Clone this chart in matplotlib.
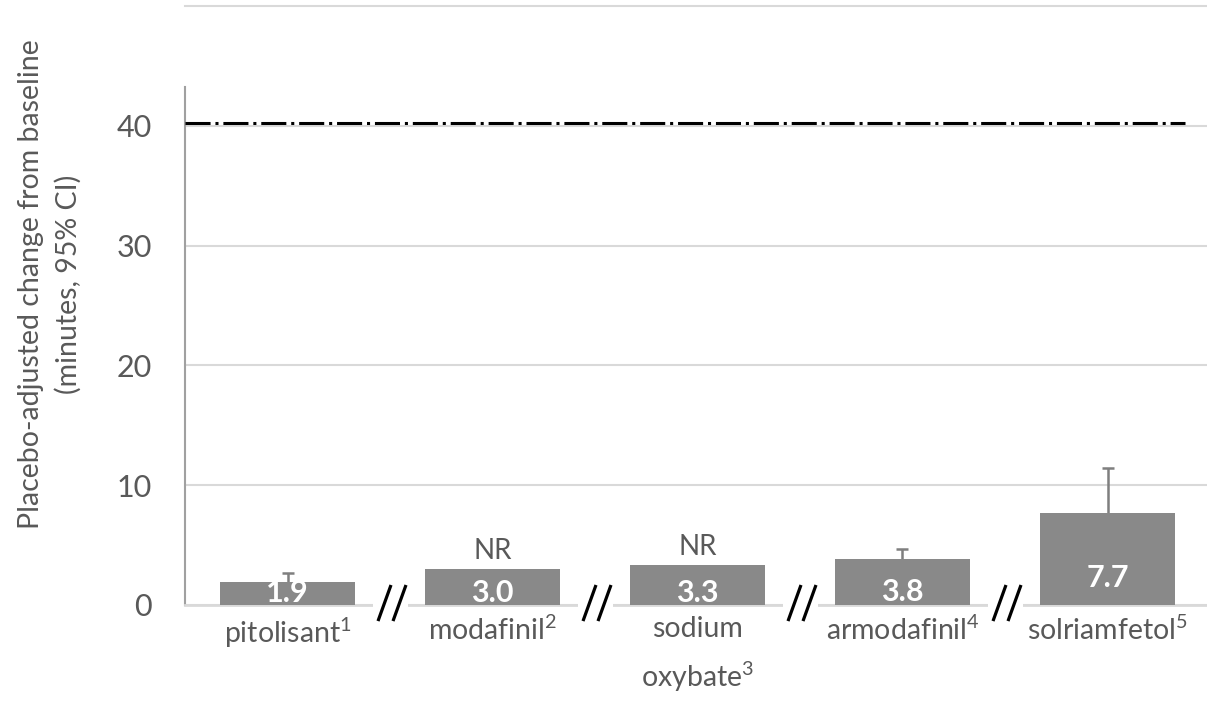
import numpy as np
import matplotlib.pyplot as plt
from matplotlib.patches import Rectangle

plt.rcParams['font.family'] = ['Lato', 'DejaVu Sans']
plt.rcParams['mathtext.fontset'] = 'custom'
plt.rcParams['mathtext.rm'] = 'Lato'
plt.rcParams['mathtext.it'] = 'Lato:italic'
plt.rcParams['mathtext.bf'] = 'Lato:bold'

# Data
drugs = ['pitolisant$^{1}$', 'modafinil$^{2}$', 'sodium\noxybate$^{3}$',
         'armodafinil$^{4}$', 'solriamfetol$^{5}$']
values = [1.9, 3.0, 3.3, 3.8, 7.7]
ci_upper = [2.7, None, None, 4.7, 11.4]   # None = not reported
ref_line = 40.25
yticks = [0, 10, 20, 30, 40]

text_col = '#595959'
bar_col = '#898989'
grid_col = '#d9d9d9'

fig = plt.figure(figsize=(12.07, 7.18), dpi=100)
ax = fig.add_axes([185 / 1207, 1 - 605 / 718, 1025 / 1207, 599 / 718])

x = np.arange(len(values))
ax.bar(x, values, width=0.66, color=bar_col, zorder=3)

# CI drawn behind the bars, so only the upper half shows
idx = [i for i, u in enumerate(ci_upper) if u is not None]
half = [ci_upper[i] - values[i] for i in idx]
ax.errorbar(idx, [values[i] for i in idx], yerr=half,
            fmt='none', ecolor='#7f7f7f', elinewidth=1.8, capsize=4.5,
            capthick=1.8, zorder=2.5)

for i, v in enumerate(values):
    ax.text(i, max(1.0, 0.29 * v), f'{v:.1f}', ha='center', va='center',
            color='white', fontsize=22, fontweight='bold', zorder=6)
    if ci_upper[i] is None:
        ax.annotate('NR', (i, v), xytext=(0, 4), textcoords='offset points',
                    ha='center', va='bottom', color=text_col, fontsize=20)

# dash-dot reference line
ax.hlines(ref_line, -0.5, 4.38, color='black', linewidth=2.2,
          linestyle=(0, (8.2, 1.6, 1.0, 1.6)), zorder=5)

# axis break marks between the studies
px = 1 / 205.0
for c in x[:-1] + 0.5:
    ax.add_patch(Rectangle((c - 17 * px, -0.4), 35 * px, 0.8, facecolor='white',
                           edgecolor='none', clip_on=False, zorder=7))
    for x0 in (-12, 3):
        ax.plot([c + x0 * px, c + (x0 + 13) * px], [-1.34, 1.67], color='black',
                linewidth=2.3, clip_on=False, zorder=8, solid_capstyle='butt')

ax.set_xlim(-0.5, 4.5)
ax.set_ylim(0, 50)
ax.set_yticks(yticks)
ax.set_xticks(x)
ax.set_xticklabels(drugs, linespacing=1.65)
ax.tick_params(axis='both', length=0, labelsize=20.5, labelcolor=text_col)
ax.tick_params(axis='y', pad=24, labelsize=22)
ax.tick_params(axis='x', pad=8)

ax.grid(axis='y', color=grid_col, linewidth=1.5, zorder=0)
ax.set_axisbelow(True)
ax.spines['right'].set_visible(False)
ax.spines['top'].set_color(grid_col)
ax.spines['top'].set_linewidth(1.5)
ax.spines['bottom'].set_color(grid_col)
ax.spines['bottom'].set_linewidth(2)
ax.spines['left'].set_color('#a0a0a0')
ax.spines['left'].set_linewidth(1.5)
ax.spines['left'].set_bounds(0, 43.2)

fig.text(50 / 1207, 1 - 284 / 718,
         'Placebo-adjusted change from baseline\n(minutes, 95% CI)',
         rotation=90, ha='center', va='center', multialignment='center',
         color=text_col, fontsize=20.5, linespacing=1.5)

fig.savefig('out.png', dpi=100)
